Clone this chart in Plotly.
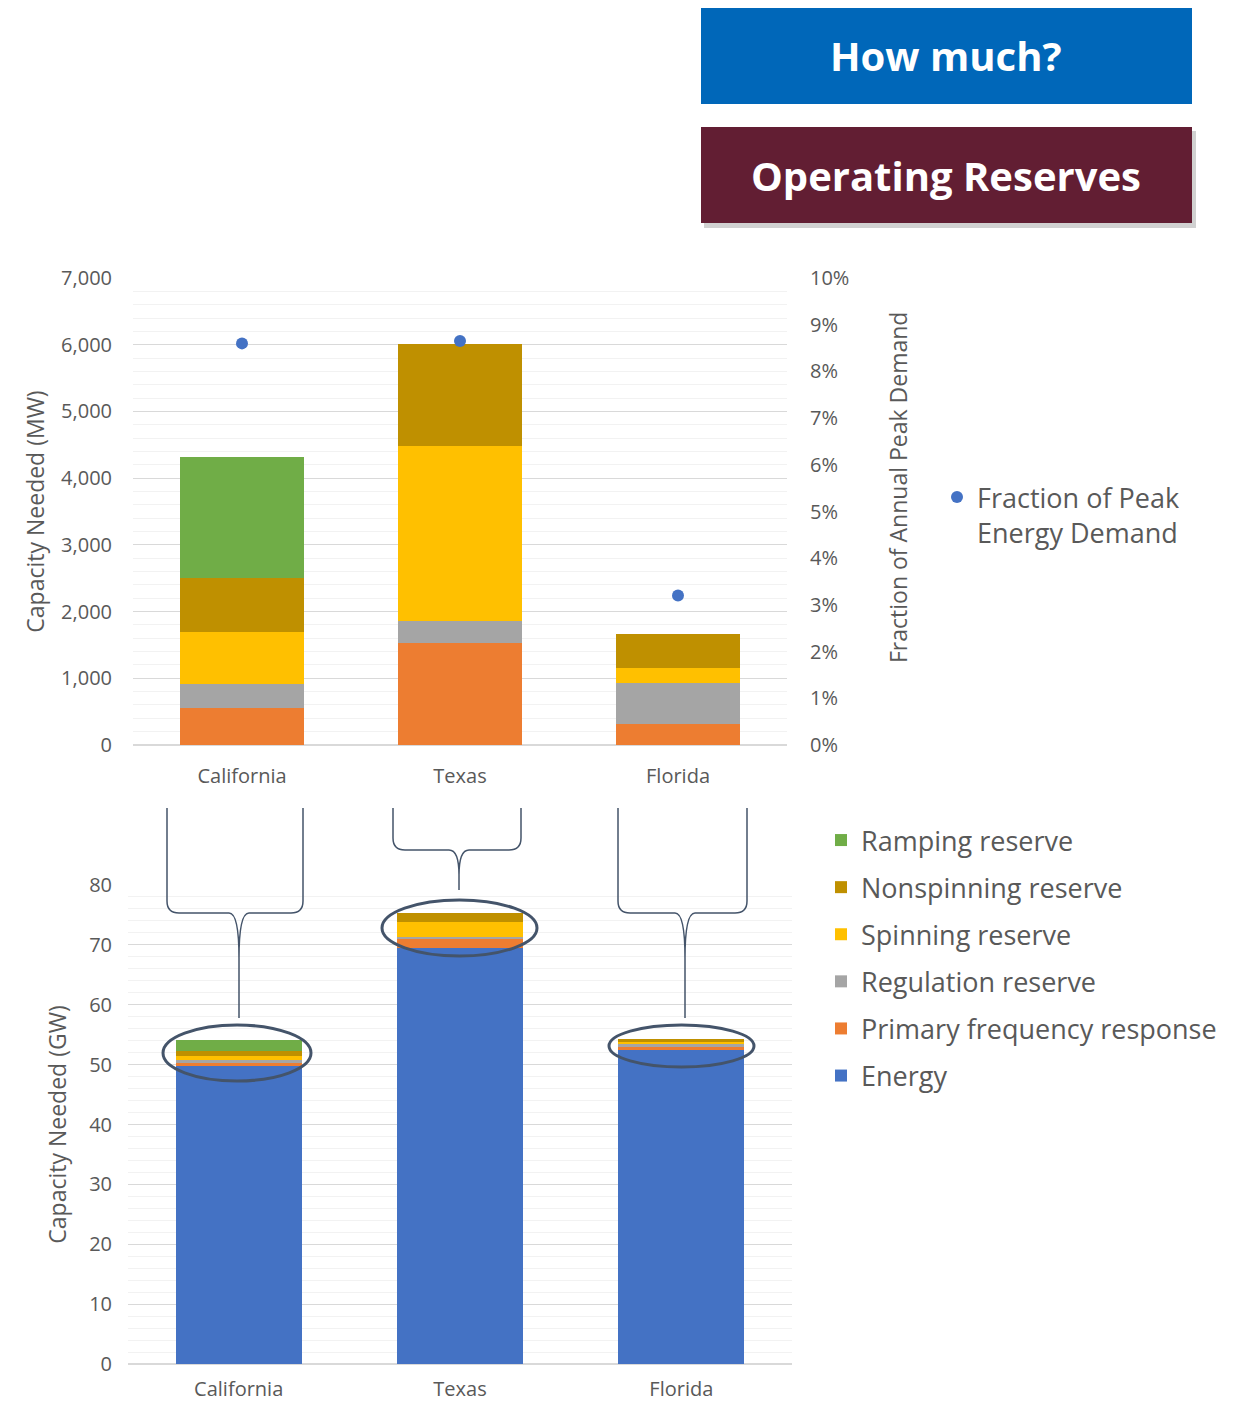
import plotly.graph_objects as go

regions = ["California", "Texas", "Florida"]

# reserve requirements, MW
primary_mw = [550, 1525, 315]
regulation_mw = [360, 340, 620]
spinning_mw = [790, 2620, 220]
nonspinning_mw = [810, 1520, 515]
ramping_mw = [1810, 0, 0]

# energy need, GW
energy_gw = [49.8, 69.4, 52.6]

# fraction of peak energy demand
peak_fraction = [0.086, 0.0865, 0.032]

W, H = 1237, 1406
FONT = "Open Sans"
TXT = "#595959"


def px(x):
    return x / W


def py(y):
    return 1 - y / H


reserves = [
    ("Primary frequency response", primary_mw, "#ED7D31", 5),
    ("Regulation reserve", regulation_mw, "#A5A5A5", 4),
    ("Spinning reserve", spinning_mw, "#FFC000", 3),
    ("Nonspinning reserve", nonspinning_mw, "#BF9000", 2),
    ("Ramping reserve", ramping_mw, "#70AD47", 1),
]

fig = go.Figure()

# top chart: reserves in MW
for name, vals, color, rank in reserves:
    fig.add_trace(go.Bar(x=regions, y=vals, name=name, marker_color=color,
                         marker_line_width=0, showlegend=False,
                         xaxis="x", yaxis="y"))

fig.add_trace(go.Scatter(x=regions, y=peak_fraction, mode="markers",
                         name="Fraction of Peak<br>Energy Demand",
                         marker=dict(color="#4472C4", size=12),
                         xaxis="x", yaxis="y3", legend="legend2"))

# bottom chart: energy + reserves in GW
fig.add_trace(go.Bar(x=regions, y=energy_gw, name="Energy", marker_color="#4472C4",
                     marker_line_width=0, legendgroup="Energy", legendrank=6,
                     xaxis="x2", yaxis="y2"))
for name, vals, color, rank in reserves:
    fig.add_trace(go.Bar(x=regions, y=[v / 1000 for v in vals], name=name,
                         marker_color=color, marker_line_width=0,
                         legendgroup=name, legendrank=rank,
                         xaxis="x2", yaxis="y2"))

tickfont = dict(family=FONT, size=20, color=TXT)
titlefont = dict(family=FONT, size=23, color=TXT)

fig.update_layout(
    width=W, height=H,
    margin=dict(l=0, r=0, t=0, b=0, autoexpand=False),
    paper_bgcolor="white", plot_bgcolor="white",
    barmode="stack", bargap=0.43,
    font=dict(family=FONT, color=TXT),
    xaxis=dict(domain=[px(133), px(787)], anchor="y", tickfont=tickfont,
               showgrid=False, showline=False, ticks="", ticklabelstandoff=17,
               automargin=False),
    yaxis=dict(domain=[py(745), py(278)], range=[0, 7000], dtick=1000,
               tickformat=",", tickfont=tickfont, gridcolor="#D9D9D9",
               zeroline=True, zerolinecolor="#D9D9D9", zerolinewidth=1.5,
               minor=dict(dtick=200, showgrid=True, gridcolor="#F2F2F2"),
               ticklabelstandoff=20, automargin=False,
               title=dict(text="Capacity Needed (MW)", font=titlefont, standoff=10)),
    yaxis3=dict(overlaying="y", side="right", anchor="x", range=[0, 0.10],
                dtick=0.01, tickformat=".0%", tickfont=tickfont, showgrid=False,
                zeroline=False, ticklabelstandoff=22, automargin=False),
    xaxis2=dict(domain=[px(128), px(792)], anchor="y2", tickfont=tickfont,
                showgrid=False, showline=False, ticks="", ticklabelstandoff=11,
                automargin=False),
    yaxis2=dict(domain=[py(1364), py(885)], range=[0, 80], dtick=10,
                tickfont=tickfont, gridcolor="#D9D9D9",
                zeroline=True, zerolinecolor="#D9D9D9", zerolinewidth=1.5,
                minor=dict(dtick=2, showgrid=True, gridcolor="#F2F2F2"),
                ticklabelstandoff=20, automargin=False,
                title=dict(text="Capacity Needed (GW)", font=titlefont, standoff=16)),
    legend=dict(x=px(821), y=py(816), xanchor="left", yanchor="top",
                traceorder="grouped", tracegroupgap=9,
                font=dict(family=FONT, size=27, color=TXT), bgcolor="rgba(0,0,0,0)"),
    legend2=dict(x=px(937), y=py(473), xanchor="left", yanchor="top", valign="top",
                 font=dict(family=FONT, size=27, color=TXT), bgcolor="rgba(0,0,0,0)"),
)

# right axis title
fig.add_annotation(x=px(898), y=py(488), xref="paper", yref="paper",
                   xanchor="center", yanchor="middle",
                   text="Fraction of Annual Peak Demand", textangle=-90,
                   showarrow=False, font=titlefont)

# header boxes
fig.add_shape(type="rect", xref="paper", yref="paper",
              x0=px(701), x1=px(1192), y0=py(104), y1=py(8),
              fillcolor="#0067B9", line_width=0)
fig.add_shape(type="rect", xref="paper", yref="paper",
              x0=px(704), x1=px(1196), y0=py(228), y1=py(131),
              fillcolor="rgba(0,0,0,0.18)", line_width=0)
fig.add_shape(type="rect", xref="paper", yref="paper",
              x0=px(701), x1=px(1192), y0=py(223), y1=py(127),
              fillcolor="#621E33", line_width=0)
fig.add_annotation(x=px(946), y=py(56), xref="paper", yref="paper",
                   xanchor="center", yanchor="middle",
                   text="<b>How much?</b>", showarrow=False,
                   font=dict(family=FONT, size=40, color="white"))
fig.add_annotation(x=px(946), y=py(175), xref="paper", yref="paper",
                   xanchor="center", yanchor="middle",
                   text="<b>Operating Reserves</b>", showarrow=False,
                   font=dict(family=FONT, size=40, color="white"))


def brace(xl, xr, xc, ybar, ytip, ytop=808, r=12, r2=45):
    return (f"M {px(xl)},{py(ytop)} L {px(xl)},{py(ybar - r)} "
            f"Q {px(xl)},{py(ybar)} {px(xl + r)},{py(ybar)} "
            f"L {px(xc - 10)},{py(ybar)} "
            f"Q {px(xc)},{py(ybar)} {px(xc)},{py(ybar + r2)} "
            f"L {px(xc)},{py(ytip)} "
            f"M {px(xr)},{py(ytop)} L {px(xr)},{py(ybar - r)} "
            f"Q {px(xr)},{py(ybar)} {px(xr - r)},{py(ybar)} "
            f"L {px(xc + 10)},{py(ybar)} "
            f"Q {px(xc)},{py(ybar)} {px(xc)},{py(ybar + r2)}")


for path in [brace(167, 303, 239, 913, 1018),
             brace(393, 521, 459, 850, 890, r2=25),
             brace(618, 747, 685, 913, 1018)]:
    fig.add_shape(type="path", xref="paper", yref="paper", path=path,
                  line=dict(color="#44546A", width=1.5))

for x0, x1, y0, y1 in [(163, 311, 1025, 1081), (382, 537, 900, 956), (609, 754, 1025, 1067)]:
    fig.add_shape(type="circle", xref="paper", yref="paper",
                  x0=px(x0), x1=px(x1), y0=py(y1), y1=py(y0),
                  line=dict(color="#44546A", width=3))

# pin the figure to the window corner so the page does not overflow
pin = ("var gd=document.getElementById('{plot_id}');"
       "gd.style.position='fixed';gd.style.top='0';gd.style.left='0';"
       "document.body.style.margin='0';")
fig.write_html("out.html", config={"displayModeBar": False}, post_script=pin)
